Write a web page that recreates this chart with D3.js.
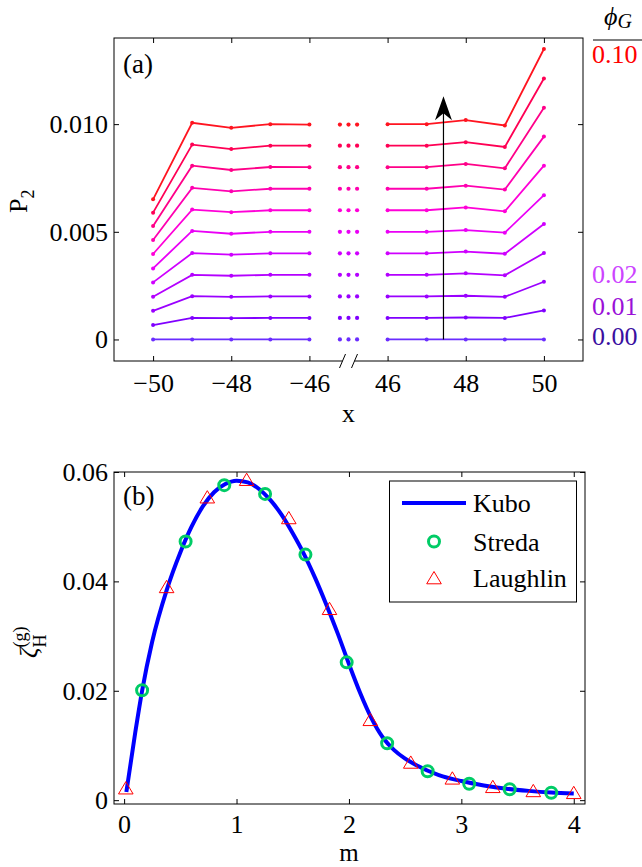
<!DOCTYPE html>
<html>
<head>
<meta charset="utf-8">
<script src="https://cdn.jsdelivr.net/npm/d3@7"></script>
<style>
body{margin:0;background:#fff;}
svg{display:block;font-family:"Liberation Serif","Times New Roman",serif;}
.axis line{stroke:#000;stroke-width:1;}
.axis text{font-size:26px;fill:#000;font-family:"Liberation Serif","Times New Roman",serif;}
</style>
</head>
<body>
<script>
(function(){
//panel (a) data: x positions on both sides of the break
var xLeft = [-50, -49, -48, -47, -46],
    xRight = [46, 47, 48, 49, 50];
var phiG = [0.00, 0.01, 0.02, 0.03, 0.04, 0.05, 0.06, 0.07, 0.08, 0.09, 0.10];
//P2 for each phiG, values at xLeft then xRight
var p2Rows = [
    [0, 0, 0, 0, 0, 0, 0, 0, 0, 0],
    [0.00067, 0.00100, 0.00099, 0.00100, 0.00100, 0.00100, 0.00100, 0.00102, 0.00100, 0.00135],
    [0.00133, 0.00201, 0.00198, 0.00200, 0.00200, 0.00200, 0.00200, 0.00203, 0.00198, 0.00268],
    [0.00198, 0.00300, 0.00296, 0.00300, 0.00300, 0.00300, 0.00300, 0.00307, 0.00298, 0.00401],
    [0.00265, 0.00401, 0.00394, 0.00400, 0.00400, 0.00400, 0.00400, 0.00408, 0.00398, 0.00536],
    [0.00330, 0.00504, 0.00491, 0.00500, 0.00500, 0.00500, 0.00500, 0.00508, 0.00496, 0.00670],
    [0.00397, 0.00603, 0.00591, 0.00600, 0.00600, 0.00600, 0.00600, 0.00613, 0.00595, 0.00807],
    [0.00462, 0.00704, 0.00688, 0.00700, 0.00700, 0.00700, 0.00700, 0.00714, 0.00696, 0.00942],
    [0.00527, 0.00807, 0.00787, 0.00801, 0.00800, 0.00800, 0.00800, 0.00815, 0.00795, 0.01076],
    [0.00589, 0.00905, 0.00884, 0.00900, 0.00900, 0.00900, 0.00900, 0.00916, 0.00894, 0.01212],
    [0.00651, 0.01006, 0.00983, 0.01000, 0.00998, 0.01000, 0.01000, 0.01019, 0.00994, 0.01349]
];
var xTicksA = [-50, -48, -46, 46, 48, 50];
var yTicksA = [0, 0.005, 0.010];
var arrowX = 47.43, arrowTop = 0.0113;
var phiShown = [0.10, 0.02, 0.01, 0.00];

//panel (b) data
var kuboM = [0.02, 0.1, 0.16, 0.25, 0.38, 0.5, 0.6, 0.7, 0.8, 0.9, 1.0, 1.1, 1.2, 1.3, 1.4, 1.5, 1.6, 1.7,
    1.8, 1.9, 2.0, 2.1, 2.2, 2.3, 2.4, 2.5, 2.6, 2.8, 3.0, 3.2, 3.4, 3.6, 3.8, 4.0];
var kuboV = [0.0015, 0.0125, 0.0200, 0.0290, 0.0385, 0.0453, 0.0500, 0.0537, 0.0563, 0.0578, 0.0584, 0.0581,
    0.0569, 0.0549, 0.0522, 0.0488, 0.0450, 0.0406, 0.0357, 0.0305, 0.0249, 0.0196, 0.0150, 0.0115, 0.0092,
    0.0076, 0.0064, 0.0046, 0.0035, 0.0027, 0.0021, 0.0017, 0.0014, 0.0012];
var stredaM = [0.16, 0.547, 0.891, 1.254, 1.613, 1.98, 2.34, 2.70, 3.07, 3.43, 3.80];
var stredaV = [0.0201, 0.0473, 0.0576, 0.0560, 0.0449, 0.0252, 0.0104, 0.0053, 0.0030, 0.0020, 0.00135];
var laughM = [0.015, 0.378, 0.74, 1.09, 1.465, 1.827, 2.19, 2.55, 2.92, 3.28, 3.64, 4.0];
var laughV = [0.0022, 0.0390, 0.0554, 0.0586, 0.0516, 0.0350, 0.0147, 0.0069, 0.0040, 0.00245, 0.0017, 0.00135];
var xTicksB = [0, 1, 2, 3, 4];
var yTicksB = [0, 0.02, 0.04, 0.06];
var legendNames = ["Kubo", "Streda", "Laughlin"];

//line colours from blue-violet to red
var lineColors = ["#6a2cff", "#8000ff", "#9a00ff", "#b400ff", "#cf00ff", "#ea00f6",
    "#ff00d8", "#ff00b0", "#ff0088", "#ff0054", "#ff1420"];
var phiLabelColors = {"0.10": "#ff0000", "0.02": "#cc44ff", "0.01": "#9a10d8", "0.00": "#3a0fa0"};

var width = 642, height = 867;

var svg = d3.select("body")
    .append("svg")
    .attr("width", width)
    .attr("height", height);

setPanelA();
setPanelB();

//collapse the gap between -46 and 46
function gapX(x){
    return x < 0 ? x : x - 90;
};

function setPanelA(){
    var left = 114, right = 583, top = 38, bottom = 361;

    var xA = d3.scaleLinear().domain([-51, -39]).range([left, right]);
    var yA = d3.scaleLinear().domain([-0.001, 0.014]).range([bottom, top]);

    var g = svg.append("g").attr("class", "panelA");

    var fmtY = function(d){ return d === 0 ? "0" : d3.format(".3f")(d); };

    //axes with inward ticks
    g.append("g").attr("class", "axis")
        .attr("transform", "translate(0," + bottom + ")")
        .call(d3.axisBottom(xA)
            .tickValues(xTicksA.map(gapX))
            .tickFormat(function(d, i){ return d3.format("d")(xTicksA[i]); })
            .tickSizeInner(-5).tickSizeOuter(0).tickPadding(13));
    g.append("g").attr("class", "axis")
        .attr("transform", "translate(0," + top + ")")
        .call(d3.axisTop(xA).tickValues(xTicksA.map(gapX)).tickFormat("")
            .tickSizeInner(-5).tickSizeOuter(0));
    g.append("g").attr("class", "axis")
        .attr("transform", "translate(" + left + ",0)")
        .call(d3.axisLeft(yA).tickValues(yTicksA).tickFormat(fmtY)
            .tickSizeInner(-5).tickSizeOuter(0).tickPadding(6));
    g.append("g").attr("class", "axis")
        .attr("transform", "translate(" + right + ",0)")
        .call(d3.axisRight(yA).tickValues(yTicksA).tickFormat("")
            .tickSizeInner(-5).tickSizeOuter(0));
    g.selectAll(".domain").remove();

    //frame
    g.append("rect")
        .attr("x", left).attr("y", top)
        .attr("width", right - left).attr("height", bottom - top)
        .attr("fill", "none").attr("stroke", "#000").attr("stroke-width", 1);

    //axis break
    var bx = xA(-45);
    g.append("rect")
        .attr("x", bx - 6).attr("y", bottom - 2)
        .attr("width", 12).attr("height", 4)
        .attr("fill", "#fff");
    [-6, 6].forEach(function(off){
        g.append("line")
            .attr("x1", bx + off - 3).attr("y1", bottom + 7)
            .attr("x2", bx + off + 3).attr("y2", bottom - 7)
            .attr("stroke", "#000").attr("stroke-width", 1);
    });

    var line = d3.line()
        .x(function(d){ return xA(gapX(d[0])); })
        .y(function(d){ return yA(d[1]); });

    var allX = xLeft.concat(xRight);
    p2Rows.forEach(function(row, n){
        var col = lineColors[n];
        var pts = allX.map(function(x, i){ return [x, row[i]]; });
        [pts.slice(0, 5), pts.slice(5)].forEach(function(seg){
            g.append("path")
                .datum(seg)
                .attr("d", line)
                .attr("fill", "none")
                .attr("stroke", col)
                .attr("stroke-width", 1.8);
        });
        g.selectAll(".pt" + n)
            .data(pts)
            .enter()
            .append("circle")
            .attr("cx", function(d){ return xA(gapX(d[0])); })
            .attr("cy", function(d){ return yA(d[1]); })
            .attr("r", 2)
            .attr("fill", col);
        //ellipsis across the gap, at the flat level of each curve
        [-45.22, -45, -44.78].forEach(function(u){
            g.append("circle")
                .attr("cx", xA(u))
                .attr("cy", yA(row[4]))
                .attr("r", 2.1)
                .attr("fill", col);
        });
    });

    //arrow
    var ax = xA(gapX(arrowX)), ty = yA(arrowTop);
    g.append("line")
        .attr("x1", ax).attr("y1", yA(0))
        .attr("x2", ax).attr("y2", ty + 16)
        .attr("stroke", "#000").attr("stroke-width", 1.2);
    g.append("path")
        .attr("d", "M" + ax + "," + ty + "L" + (ax - 8.5) + "," + (ty + 24) +
            "L" + ax + "," + (ty + 17) + "L" + (ax + 8.5) + "," + (ty + 24) + "Z")
        .attr("fill", "#000");

    //panel tag
    g.append("text")
        .attr("x", 123).attr("y", 73)
        .attr("font-size", 27)
        .text("(a)");

    //axis labels
    g.append("text")
        .attr("x", xA(-45)).attr("y", 422)
        .attr("text-anchor", "middle")
        .attr("font-size", 26)
        .text("x");
    var yl = g.append("text")
        .attr("transform", "translate(27,213) rotate(-90)")
        .attr("font-size", 26);
    yl.append("tspan").text("P");
    yl.append("tspan").attr("dy", 7).attr("font-size", 18).text("2");

    //phi_G legend on the right
    var pl = g.append("text")
        .attr("x", 604).attr("y", 25)
        .attr("font-size", 26)
        .attr("font-style", "italic");
    pl.append("tspan").text("\u03D5");
    pl.append("tspan").attr("dy", 3).attr("font-size", 20).text("G");
    g.append("line")
        .attr("x1", 593).attr("x2", 642)
        .attr("y1", 40).attr("y2", 40)
        .attr("stroke", "#000").attr("stroke-width", 1);
    var labelBase = {"0.10": 63, "0.02": 283, "0.01": 315, "0.00": 345};
    phiShown.forEach(function(p){
        var s = d3.format(".2f")(p);
        g.append("text")
            .attr("x", 592).attr("y", labelBase[s])
            .attr("font-size", 26)
            .attr("fill", phiLabelColors[s])
            .text(s);
    });
};

function setPanelB(){
    var left = 114, right = 585, top = 472, bottom = 804;

    var xB = d3.scaleLinear().domain([-0.09, 4.1]).range([left, right]);
    var yB = d3.scaleLinear().domain([-0.0007, 0.06]).range([bottom, top]);

    var g = svg.append("g").attr("class", "panelB");

    var fmtY = function(d){ return d === 0 ? "0" : d3.format(".2f")(d); };

    g.append("g").attr("class", "axis")
        .attr("transform", "translate(0," + bottom + ")")
        .call(d3.axisBottom(xB).tickValues(xTicksB).tickFormat(d3.format("d"))
            .tickSizeInner(-5).tickSizeOuter(0).tickPadding(11));
    g.append("g").attr("class", "axis")
        .attr("transform", "translate(0," + top + ")")
        .call(d3.axisTop(xB).tickValues(xTicksB).tickFormat("")
            .tickSizeInner(-5).tickSizeOuter(0));
    g.append("g").attr("class", "axis")
        .attr("transform", "translate(" + left + ",0)")
        .call(d3.axisLeft(yB).tickValues(yTicksB).tickFormat(fmtY)
            .tickSizeInner(-5).tickSizeOuter(0).tickPadding(6));
    g.append("g").attr("class", "axis")
        .attr("transform", "translate(" + right + ",0)")
        .call(d3.axisRight(yB).tickValues(yTicksB).tickFormat("")
            .tickSizeInner(-5).tickSizeOuter(0));
    g.selectAll(".domain").remove();

    g.append("rect")
        .attr("x", left).attr("y", top)
        .attr("width", right - left).attr("height", bottom - top)
        .attr("fill", "none").attr("stroke", "#000").attr("stroke-width", 1);

    //Kubo curve
    var kubo = kuboM.map(function(m, i){ return [m, kuboV[i]]; });
    var line = d3.line()
        .curve(d3.curveMonotoneX)
        .x(function(d){ return xB(d[0]); })
        .y(function(d){ return yB(d[1]); });
    g.append("path")
        .datum(kubo)
        .attr("d", line)
        .attr("fill", "none")
        .attr("stroke", "#0000ff")
        .attr("stroke-width", 4);

    //Streda circles
    g.selectAll(".streda")
        .data(stredaM)
        .enter()
        .append("circle")
        .attr("class", "streda")
        .attr("cx", function(d){ return xB(d); })
        .attr("cy", function(d, i){ return yB(stredaV[i]); })
        .attr("r", 5.5)
        .attr("fill", "none")
        .attr("stroke", "#00cc66")
        .attr("stroke-width", 3);

    //Laughlin triangles
    var tri = "M0,-6.5L7.3,5.8L-7.3,5.8Z";
    g.selectAll(".laugh")
        .data(laughM)
        .enter()
        .append("path")
        .attr("class", "laugh")
        .attr("d", tri)
        .attr("transform", function(d, i){ return "translate(" + xB(d) + "," + yB(laughV[i]) + ")"; })
        .attr("fill", "none")
        .attr("stroke", "#ff0000")
        .attr("stroke-width", 1);

    //panel tag
    g.append("text")
        .attr("x", 123).attr("y", 505)
        .attr("font-size", 27)
        .text("(b)");

    //axis labels
    g.append("text")
        .attr("x", xB(2)).attr("y", 861)
        .attr("text-anchor", "middle")
        .attr("font-size", 25)
        .text("m");
    var yl = g.append("text")
        .attr("transform", "translate(37,658) rotate(-90)")
        .attr("font-size", 26);
    yl.append("tspan").attr("font-style", "italic").text("\u03B6");
    yl.append("tspan").attr("dy", 9).attr("font-size", 18).text("H");
    yl.append("tspan").attr("dx", -13).attr("dy", -20).attr("font-size", 18).text("(g)");

    //legend
    var lg = g.append("g").attr("class", "legend");
    lg.append("rect")
        .attr("x", 389.5).attr("y", 481)
        .attr("width", 187).attr("height", 121)
        .attr("fill", "#fff").attr("stroke", "#000").attr("stroke-width", 1);
    var rowY = [503, 541.5, 578];
    lg.append("line")
        .attr("x1", 402).attr("x2", 466)
        .attr("y1", rowY[0]).attr("y2", rowY[0])
        .attr("stroke", "#0000ff").attr("stroke-width", 4);
    lg.append("circle")
        .attr("cx", 434).attr("cy", rowY[1]).attr("r", 5.5)
        .attr("fill", "none").attr("stroke", "#00cc66").attr("stroke-width", 3);
    lg.append("path")
        .attr("d", tri)
        .attr("transform", "translate(434," + rowY[2] + ")")
        .attr("fill", "none").attr("stroke", "#ff0000").attr("stroke-width", 1);
    legendNames.forEach(function(name, i){
        lg.append("text")
            .attr("x", 473).attr("y", rowY[i] + 9)
            .attr("font-size", 26)
            .text(name);
    });
};

})();
</script>
</body>
</html>
